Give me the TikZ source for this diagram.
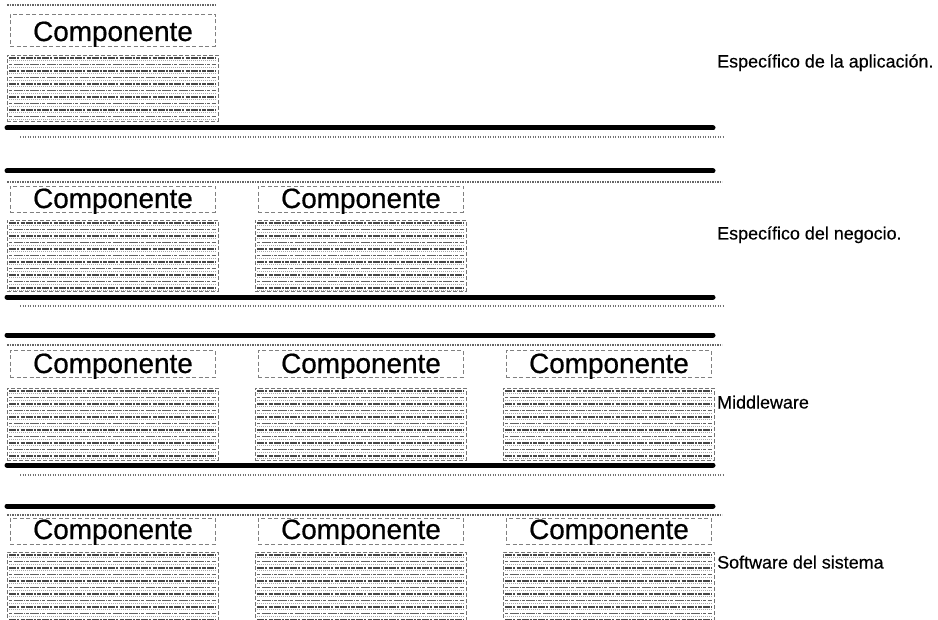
\documentclass[tikz,border=0pt]{standalone}
\usepackage{fontspec}
\setmainfont{Liberation Sans}
\newfontfamily\heavysans[FakeBold=0.6]{Liberation Sans}
\newfontfamily\labelsans[FakeBold=0.3]{Liberation Sans}
\usetikzlibrary{calc}

\tikzset{
  % heavy rule between layers
  layerrule/.style={line width=5bp, black, line cap=round},
  % speckled rule under each heavy rule
  speckrule/.style={line width=1.6bp, black!55, dash pattern=on 1.2bp off 1.3bp},
  % dotted edge along the top of a row of components
  rowedge/.style={line width=1.1bp, black!60, dash pattern=on 1.5bp off 1bp},
  % framed title strip of a component
  hdrbox/.style={rectangle, draw=black!50, line width=0.5bp,
    dash pattern=on 4bp off 2.5bp, minimum width=205bp, inner sep=0pt, outer sep=0pt},
  comptext/.style={font=\heavysans\fontsize{28}{30}\selectfont, inner sep=0pt},
  % component body filled with rows of fine print
  bodybox/.style={rectangle, draw=black!55, line width=0.5bp,
    dash pattern=on 4bp off 2bp, minimum width=211bp, inner sep=0pt, outer sep=0pt,
    path picture={
      \foreach \k [count=\i] in {3,9.5,...,130}{
        \ifodd\i
          \draw[line width=1.4bp, black!72, dash pattern=on 7bp off 1bp on 2bp off 1.5bp on 4bp off 1bp]
            ($(path picture bounding box.north west)+(2,\k)$) --
            ($(path picture bounding box.north east)+(-2,\k)$);
        \else
          \draw[line width=1.3bp, black!62, dash pattern=on 3bp off 1.5bp on 9bp off 1bp on 1bp off 1bp]
            ($(path picture bounding box.north west)+(2,\k)$) --
            ($(path picture bounding box.north east)+(-2,\k)$);
        \fi
        \draw[line width=0.6bp, black!35, dash pattern=on 1bp off 1bp]
          ($(path picture bounding box.north west)+(2,\k+2.6)$) --
          ($(path picture bounding box.north east)+(-2,\k+2.6)$);
      }
    }},
  layerlabel/.style={font=\labelsans\fontsize{18}{20}\selectfont, anchor=base west, inner sep=0pt},
}

% #1 name, #2 left x, #3/#4 title strip top/bottom, #5 title baseline, #6/#7 body top/bottom
\newcommand\compo[7]{%
  \node[hdrbox, minimum height={(#4-#3)*1bp}, anchor=north west] (#1h) at (#2+3,#3) {};
  \node[comptext, anchor=base] (#1t) at (#2+106,#5) {Componente};
  \node[bodybox, minimum height={(#7-#6)*1bp}, anchor=north west] (#1b) at (#2,#6) {};
}

\begin{document}
\begin{tikzpicture}[x=1bp, y=-1bp]
\useasboundingbox[fill=white] (0,0) rectangle (938,620);

% Layer 1: application specific
\draw[rowedge] (7,5) -- (215,5);
\compo{a1}{7}{14}{46}{41}{55}{121}
\draw[layerrule] (7,128) -- (713,128);
\draw[speckrule] (20,137) -- (724,137);
\node[layerlabel] (l1) at (717,67.5) {Específico de la aplicación.};

% Layer 2: business specific
\draw[layerrule] (7,171) -- (713,171);
\draw[rowedge] (7,182) -- (722,182);
\compo{b1}{7}{186}{212}{208}{220}{291}
\compo{b2}{255}{186}{212}{208}{220}{291}
\draw[layerrule] (7,297) -- (713,297);
\draw[speckrule] (20,306) -- (724,306);
\node[layerlabel] (l2) at (717,239.5) {Específico del negocio.};

% Layer 3: middleware
\draw[layerrule] (7,335) -- (713,335);
\draw[rowedge] (7,345) -- (722,345);
\compo{c1}{7}{350}{377}{373}{388}{460}
\compo{c2}{255}{350}{377}{373}{388}{460}
\compo{c3}{503}{350}{377}{373}{388}{460}
\draw[layerrule] (7,465) -- (713,465);
\draw[speckrule] (20,475) -- (724,475);
\node[layerlabel] (l3) at (717,408.5) {Middleware};

% Layer 4: system software
\draw[layerrule] (7,506) -- (713,506);
\draw[rowedge] (7,515) -- (722,515);
\compo{d1}{7}{518}{544}{539}{552}{626}
\compo{d2}{255}{518}{544}{539}{552}{626}
\compo{d3}{503}{518}{544}{539}{552}{626}
\node[layerlabel] (l4) at (717,568.5) {Software del sistema};
\end{tikzpicture}
\end{document}
